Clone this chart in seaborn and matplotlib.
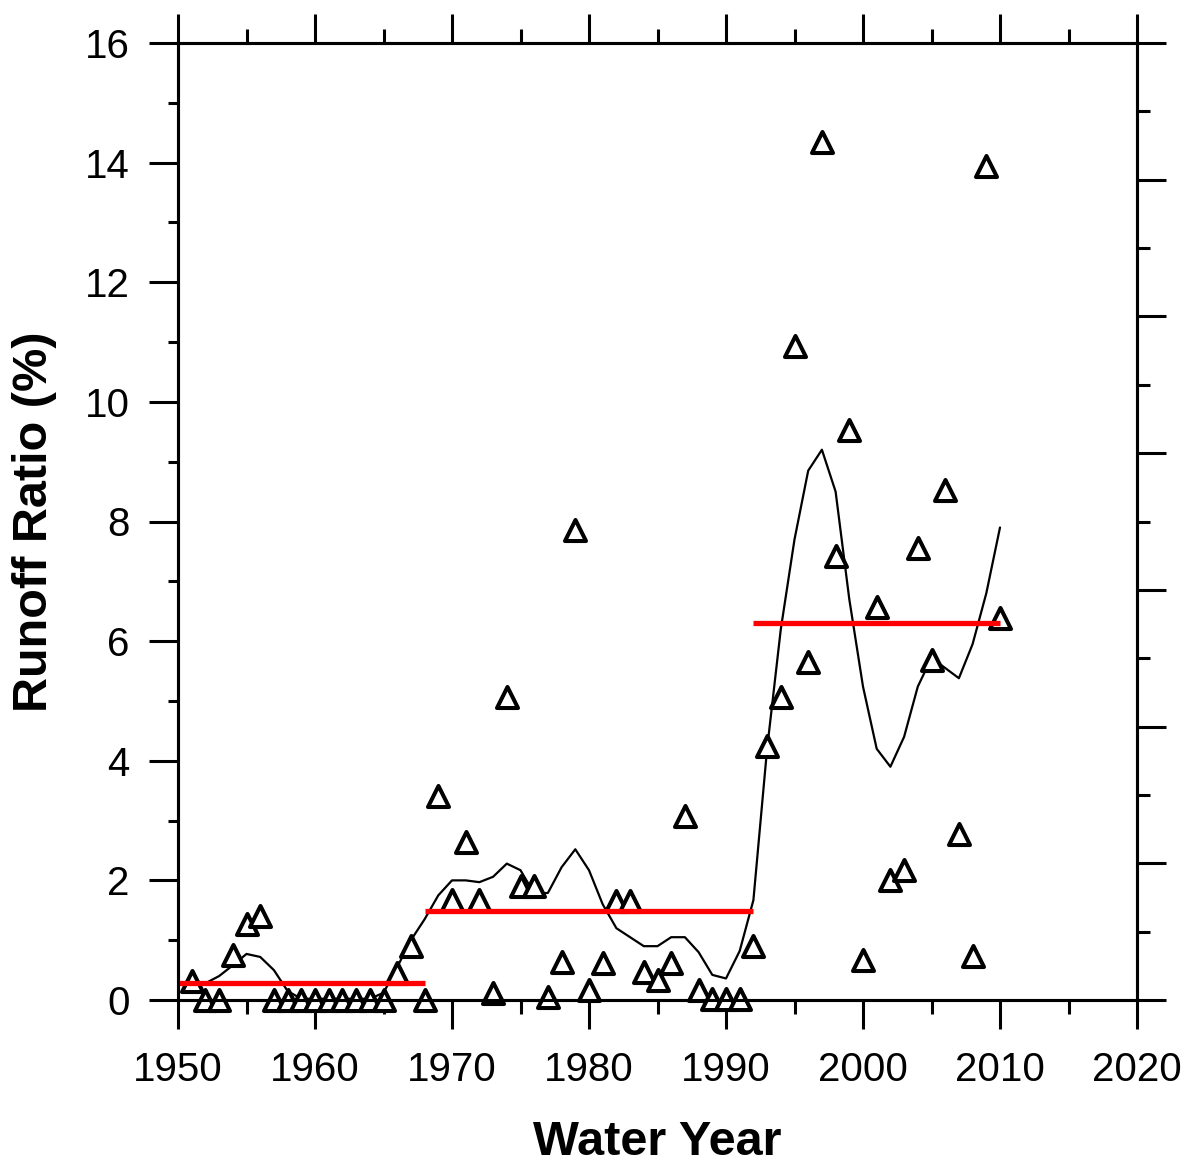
import matplotlib
matplotlib.use("Agg")
from matplotlib import pyplot as plt
from matplotlib.ticker import MultipleLocator
import seaborn as sns

# annual runoff ratio (%)
years = list(range(1951, 2011))
runoff = [0.32, 0.0, 0.0, 0.75, 1.27, 1.4, 0.0, 0.0, 0.0, 0.0,
          0.0, 0.0, 0.0, 0.0, 0.0, 0.45, 0.9, 0.0, 3.41, 1.67,
          2.64, 1.67, 0.12, 5.07, 1.9, 1.9, 0.05, 0.64, 7.86, 0.17,
          0.62, 1.66, 1.66, 0.47, 0.33, 0.62, 3.08, 0.17, 0.02, 0.02,
          0.02, 0.9, 4.25, 5.07, 10.94, 5.65, 14.35, 7.42, 9.53, 0.67,
          6.57, 2.0, 2.17, 7.56, 5.69, 8.53, 2.78, 0.74, 13.95, 6.39]

# smoothed curve
smooth = [0.27, 0.28, 0.4, 0.58, 0.77, 0.72, 0.5, 0.15, 0.02, 0.02,
          0.02, 0.02, 0.02, 0.02, 0.12, 0.55, 1.0, 1.35, 1.75, 2.0,
          2.0, 1.97, 2.06, 2.28, 2.17, 1.78, 1.79, 2.22, 2.52, 2.17,
          1.6, 1.2, 1.05, 0.9, 0.9, 1.05, 1.05, 0.8, 0.42, 0.36,
          0.82, 1.67, 4.2, 6.2, 7.7, 8.85, 9.2, 8.5, 6.7, 5.24,
          4.2, 3.9, 4.4, 5.24, 5.72, 5.55, 5.38, 5.95, 6.8, 7.9]

# period means (red)
seg_start = [1950, 1968, 1992]
seg_end = [1968, 1992, 2010]
seg_mean = [0.28, 1.49, 6.30]

sns.set_style("ticks")
plt.rcParams['font.family'] = ['Liberation Sans', 'DejaVu Sans']
plt.rcParams['text.color'] = 'black'
plt.rcParams['axes.labelcolor'] = 'black'
plt.rcParams['xtick.color'] = 'black'
plt.rcParams['ytick.color'] = 'black'
plt.rcParams['axes.edgecolor'] = 'black'

W, H = 1193, 1173
fig = plt.figure(figsize=(W/100, H/100), dpi=100)
ax = fig.add_axes([178/W, 1-1000/H, (1137-178)/W, (1000-43)/H])

sns.lineplot(x=years, y=smooth, ax=ax, color='black', lw=1.6, zorder=2)
sns.scatterplot(x=years, y=runoff, ax=ax, marker='^', s=230,
                facecolor='white', edgecolor='black', linewidth=2.9,
                zorder=3, clip_on=False)
ax.hlines(seg_mean, seg_start, seg_end, colors='red', lw=3.8, zorder=4)

ax.set_xlim(1950, 2020)
ax.set_ylim(0, 16)
ax.xaxis.set_major_locator(MultipleLocator(10))
ax.xaxis.set_minor_locator(MultipleLocator(5))
ax.yaxis.set_major_locator(MultipleLocator(2))
ax.yaxis.set_minor_locator(MultipleLocator(1))

for s in ax.spines.values():
    s.set_linewidth(2.2)
    s.set_color('black')
    s.set_visible(True)

ax.tick_params(axis='x', which='major', direction='out', length=21, width=2.2,
               top=True, bottom=True, labelsize=29, pad=16)
ax.tick_params(axis='x', which='minor', direction='out', length=10, width=2.2,
               top=True, bottom=True)
ax.tick_params(axis='y', which='major', direction='out', length=21, width=2.2,
               left=True, right=False, labelsize=29, pad=14)
ax.tick_params(axis='y', which='minor', direction='out', length=7.5, width=2.2,
               left=True, right=False)

# right axis: unlabeled secondary scale
ax2 = ax.twinx()
ax2.set_ylim(0, 14)
ax2.yaxis.set_major_locator(MultipleLocator(2))
ax2.yaxis.set_minor_locator(MultipleLocator(1))
ax2.tick_params(axis='y', which='major', direction='out', length=21, width=2.2,
                labelright=False)
ax2.tick_params(axis='y', which='minor', direction='out', length=9.5, width=2.2)
for s in ax2.spines.values():
    s.set_linewidth(2.2)
    s.set_color('black')

ax.set_xlabel('Water Year', fontsize=35, fontweight='bold', labelpad=22)
ax.set_ylabel('Runoff Ratio (%)', fontsize=35, fontweight='bold', labelpad=20)

fig.savefig('out.png', dpi=100)
